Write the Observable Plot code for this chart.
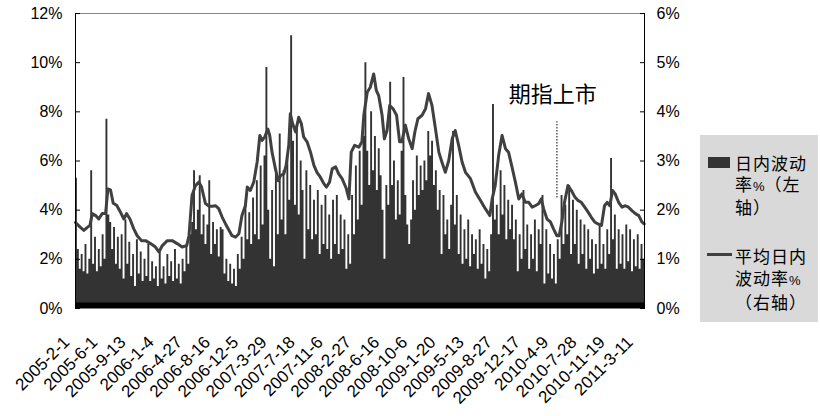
<!DOCTYPE html>
<html><head><meta charset="utf-8">
<script src="https://cdn.jsdelivr.net/npm/d3@7"></script>
<script src="https://cdn.jsdelivr.net/npm/@observablehq/plot@0.6"></script>
<style>
body{margin:0;background:#fff;}
#wrap{position:relative;width:820px;height:416px;overflow:hidden;font-family:"Liberation Sans",Arial,"Noto Sans CJK SC",sans-serif;}
#wrap svg{position:absolute;left:0;top:0;}
#legend{position:absolute;left:700px;top:135px;width:118px;height:187px;background:#d9d9d9;font-family:"Noto Sans CJK SC","Liberation Sans",sans-serif;font-size:17px;letter-spacing:1px;color:#000;}
.sw1{position:absolute;left:8px;top:22px;width:22px;height:11px;background:#333;}
.sw2{position:absolute;left:7px;top:118px;width:25px;height:3px;background:#404040;}
.t1{position:absolute;left:35px;top:18px;line-height:20.5px;white-space:nowrap;}
.t2{position:absolute;left:35px;top:110px;line-height:21.5px;white-space:nowrap;}
.pct{font-family:"Liberation Sans",Arial,sans-serif;font-size:13px;letter-spacing:0;}
</style></head><body><div id="wrap"></div>
<script>
const tickLabels = ["2005-2-1","2005-6-1","2005-9-13","2006-1-4","2006-4-27","2006-8-16","2006-12-5","2007-3-29","2007-7-18","2007-11-6","2008-2-27","2008-6-16","2008-10-6","2009-1-20","2009-5-13","2009-8-27","2009-12-17","2010-4-9","2010-7-28","2010-11-19","2011-3-11"];
const tickDays = [0,74,148,222,296,370,444,518,592,666,740,814,888,962,1036,1110,1184,1258,1332,1406,1480];
const totalDays = 1494;
const leftTicks = [0,2,4,6,8,10,12];
const barStep = 5;
// daily intraday volatility (%), one value per 5 trading days, left axis
const barValues = [
5.3,2.4,1.6,2.2,1.5,2.6,1.4,2.0,5.6,1.8,
2.9,1.5,2.4,1.7,3.0,2.0,7.7,3.8,3.5,2.4,
3.3,1.8,2.9,1.6,3.0,1.2,3.6,1.8,2.7,1.3,
2.2,0.9,2.8,1.4,2.3,1.1,2.0,1.3,2.6,1.1,
1.9,1.2,1.7,0.9,2.3,1.2,1.7,1.0,2.2,1.3,
1.9,1.1,2.4,1.2,1.8,1.0,2.0,1.5,2.5,1.8,
3.0,3.5,5.6,3.2,4.0,5.4,3.0,3.8,2.6,3.4,
5.2,2.2,3.5,2.6,3.2,2.1,3.3,
3.2,1.4,2.0,1.1,1.8,1.0,1.6,0.9,2.2,1.6,
2.9,2.0,4.2,2.8,3.9,2.6,4.5,3.0,5.2,2.8,
5.8,3.4,6.2,9.8,4.0,2.0,4.8,1.7,5.5,3.0,
7.1,3.6,5.6,3.0,6.2,4.4,11.1,6.8,4.2,7.5,
3.8,6.0,4.8,2.0,5.6,3.2,5.0,2.8,4.4,3.0,
4.8,2.2,4.2,2.6,4.6,2.4,3.8,2.0,4.4,2.6,
4.6,2.2,3.8,2.4,3.6,1.6,3.0,1.8,4.6,3.0,
5.8,3.6,6.4,4.2,7.0,10.0,
6.4,5.0,8.0,5.6,7.0,4.8,6.5,5.4,4.0,2.0,
5.0,4.2,9.2,5.0,6.0,3.6,5.2,3.8,6.4,9.4,
4.6,3.4,2.6,3.6,5.2,4.0,6.2,4.6,5.8,4.8,
6.0,5.2,7.2,6.2,6.8,5.0,5.6,4.0,4.8,2.2,
4.6,3.0,3.6,2.4,4.2,7.2,3.4,4.6,2.2,3.8,
1.8,3.2,2.0,3.6,1.7,3.0,2.2,2.8,1.6,3.2,
1.8,2.6,1.2,2.4,1.5,3.0,8.3,3.6,4.2,3.0,
5.6,3.8,5.0,2.8,4.4,3.2,
4.2,2.8,3.6,1.5,3.0,2.0,4.8,2.4,3.4,1.6,
3.0,2.0,3.6,1.5,3.2,2.6,4.6,1.0,3.2,1.4,
2.6,1.2,2.2,1.0,2.8,2.0,4.6,2.6,4.2,3.0,
5.0,2.2,4.4,2.6,4.0,1.8,3.6,2.2,3.4,1.6,
3.2,2.0,2.8,1.4,2.6,1.6,3.4,1.8,2.6,1.6,
3.2,2.2,6.1,2.8,3.8,1.6,3.2,1.8,3.0,1.6,
3.4,1.9,3.2,1.5,2.8,1.7,3.0,1.6,2.6,2.0
];
// average intraday volatility (%), right axis
const lineDays = [0,13,22,31,38,44,53,61,70,79,85,92,99,108,116,127,134,143,153,162,173,184,197,210,219,228,241,254,267,280,292,298,306,315,324,331,341,350,359,368,376,385,394,403,411,420,429,437,446,451,459,468,477,484,490,497,505,510,516,525,532,538,547,553,560,564,570,578,586,593,599,608,617,626,634,643,652,659,667,674,683,691,700,711,718,724,733,744,752,757,766,774,783,790,796,805,811,818,825,834,843,851,857,866,875,884,891,899,910,919,927,936,945,954,962,971,980,989,997,1006,1015,1024,1037,1050,1063,1076,1088,1094,1102,1111,1120,1129,1137,1146,1155,1164,1172,1181,1190,1199,1207,1216,1223,1229,1238,1247,1255,1264,1270,1277,1284,1293,1302,1311,1319,1328,1337,1346,1354,1363,1372,1381,1389,1396,1403,1410,1417,1426,1435,1444,1452,1461,1470,1479,1487,1493];
const lineValues = [1.75,1.65,1.59,1.65,1.69,1.93,1.89,1.82,1.93,1.93,2.43,2.41,2.14,2.10,1.99,1.82,1.93,1.82,1.62,1.48,1.38,1.38,1.32,1.25,1.15,1.28,1.38,1.38,1.32,1.25,1.28,1.48,2.30,2.50,2.57,2.47,2.14,2.08,2.08,2.09,2.03,1.86,1.72,1.59,1.48,1.45,1.52,1.89,2.09,2.47,2.40,2.57,2.98,3.52,3.42,3.49,3.65,3.52,3.18,2.84,2.60,2.70,2.74,2.91,3.32,3.96,3.76,3.59,3.89,3.76,3.49,3.39,3.18,2.91,2.77,2.67,2.54,2.47,2.57,2.84,2.88,2.74,2.64,2.44,2.23,3.18,3.32,3.28,3.39,3.93,4.40,4.50,4.77,4.43,4.33,3.93,3.45,3.62,4.13,4.06,3.93,3.39,3.39,3.73,3.45,3.25,3.59,3.86,3.93,4.06,4.37,4.13,3.66,3.18,2.98,2.77,3.01,3.45,3.62,3.32,2.98,2.77,2.64,2.37,2.20,2.03,1.89,2.23,2.50,3.11,3.52,3.25,3.18,2.88,2.57,2.23,2.33,2.16,2.16,2.06,2.09,2.13,2.23,2.03,1.82,1.76,1.62,1.48,1.48,1.76,2.16,2.50,2.40,2.27,2.20,2.16,2.06,1.96,1.86,1.76,1.72,1.69,2.09,2.16,2.09,2.40,2.33,2.16,2.06,2.09,2.06,1.99,1.93,1.89,1.76,1.72];
const annotation = {label:"期指上市", day:1264, top:7.6, bottom:4.5, textDay:1253, textY:8.67};

const latin = '"Liberation Sans", Arial, sans-serif';
const cjk = '"Noto Sans CJK SC", "Liberation Sans", sans-serif';

const bars = barValues.map((v, j) => ({d: j * barStep, v}));
bars.push({d: totalDays, v: barValues[barValues.length - 1]});
const line = lineDays.map((d, k) => ({d, v: lineValues[k] * 2}));
const labelByDay = new Map(tickDays.map((d, k) => [d, tickLabels[k]]));

const chart = Plot.plot({
  width: 820, height: 416,
  marginLeft: 75, marginRight: 176, marginTop: 13, marginBottom: 108,
  style: {fontFamily: latin, fontSize: "16px", color: "#000", background: "transparent", overflow: "visible"},
  x: {type: "linear", domain: [0, totalDays]},
  y: {domain: [0, 12]},
  marks: [
    Plot.areaY(bars, {x: "d", y: "v", curve: "step-after", fill: "#333333"}),
    Plot.ruleY([0], {stroke: "#000", strokeWidth: 6, dy: -3}),
    Plot.line(line, {x: "d", y: "v", stroke: "#404040", strokeWidth: 3}),
    Plot.ruleY([12], {stroke: "#868686", strokeWidth: 1}),
    Plot.ruleX([0, totalDays], {stroke: "#000", strokeWidth: 1}),
    Plot.ruleX([annotation], {x: "day", y1: "bottom", y2: "top", stroke: "#555", strokeWidth: 1.5, strokeDasharray: "1.5,1.5"}),
    Plot.text([annotation], {x: "textDay", y: "textY", text: "label", fontSize: 22, fontFamily: cjk, fill: "#000"}),
    Plot.axisY({anchor: "left", ticks: leftTicks, tickFormat: d => d + "%", tickSize: 0, tickPadding: 13, fontSize: 16, label: null}),
    Plot.axisY({anchor: "left", ticks: leftTicks, tickFormat: () => "", tickSize: 5, dx: 5, label: null}),
    Plot.axisY({anchor: "right", ticks: leftTicks, tickFormat: d => (d / 2) + "%", tickSize: 0, tickPadding: 12, fontSize: 16, label: null}),
    Plot.axisY({anchor: "right", ticks: leftTicks, tickFormat: () => "", tickSize: 5, dx: -5, label: null}),
    Plot.axisX({ticks: tickDays, tickFormat: d => labelByDay.get(d), tickRotate: -45, tickSize: 0, tickPadding: 31, dx: -9, fontSize: 17, label: null})
  ]
});
const wrap = document.getElementById("wrap");
wrap.appendChild(chart);
const lg = document.createElement("div");
lg.id = "legend";
lg.innerHTML = '<div class="sw1"></div><div class="t1">日内波动<br>率<span class="pct">%</span>（左<br>轴）</div>' +
  '<div class="sw2"></div><div class="t2">平均日内<br>波动率<span class="pct">%</span><br>（右轴）</div>';
wrap.appendChild(lg);
</script>
</body></html>
